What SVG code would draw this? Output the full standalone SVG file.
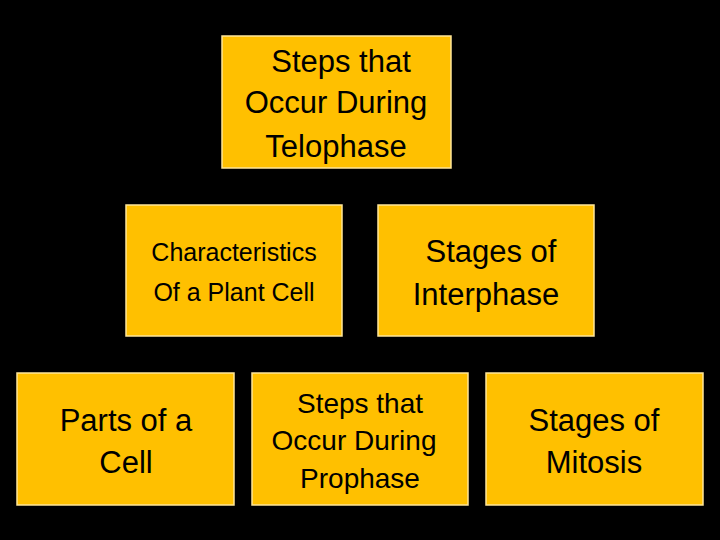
<svg xmlns="http://www.w3.org/2000/svg" width="720" height="540" viewBox="0 0 720 540">
<style>
.b{fill:#FFC000;stroke:#FFE699;stroke-width:1.5}
text{font-family:"Liberation Sans",Arial,sans-serif;fill:#000;text-anchor:middle}
.l{font-size:31px}.s{font-size:25px}.m{font-size:28px}
</style>
<rect width="720" height="540" fill="#000"/>
<g id="n1"><rect class="b" x="222" y="36" width="229" height="132"/><text class="l" x="341" y="72">Steps that</text><text class="l" x="336" y="113">Occur During</text><text class="l" x="336" y="157">Telophase</text></g>
<g id="n2"><rect class="b" x="126" y="205" width="216" height="131"/><text class="s" x="234" y="261">Characteristics</text><text class="s" x="234" y="301">Of a Plant Cell</text></g>
<g id="n3"><rect class="b" x="378" y="205" width="216" height="131"/><text class="l" x="491" y="262">Stages of</text><text class="l" x="486" y="305">Interphase</text></g>
<g id="n4"><rect class="b" x="17" y="373" width="217" height="132"/><text class="l" x="126" y="431">Parts of a</text><text class="l" x="126" y="473">Cell</text></g>
<g id="n5"><rect class="b" x="252" y="373" width="216" height="132"/><text class="m" x="360" y="413">Steps that</text><text class="m" x="354" y="450">Occur During</text><text class="m" x="360" y="488">Prophase</text></g>
<g id="n6"><rect class="b" x="486" y="373" width="217" height="132"/><text class="l" x="594" y="431">Stages of</text><text class="l" x="594" y="473">Mitosis</text></g>
<g id="connectors"/>
</svg>
